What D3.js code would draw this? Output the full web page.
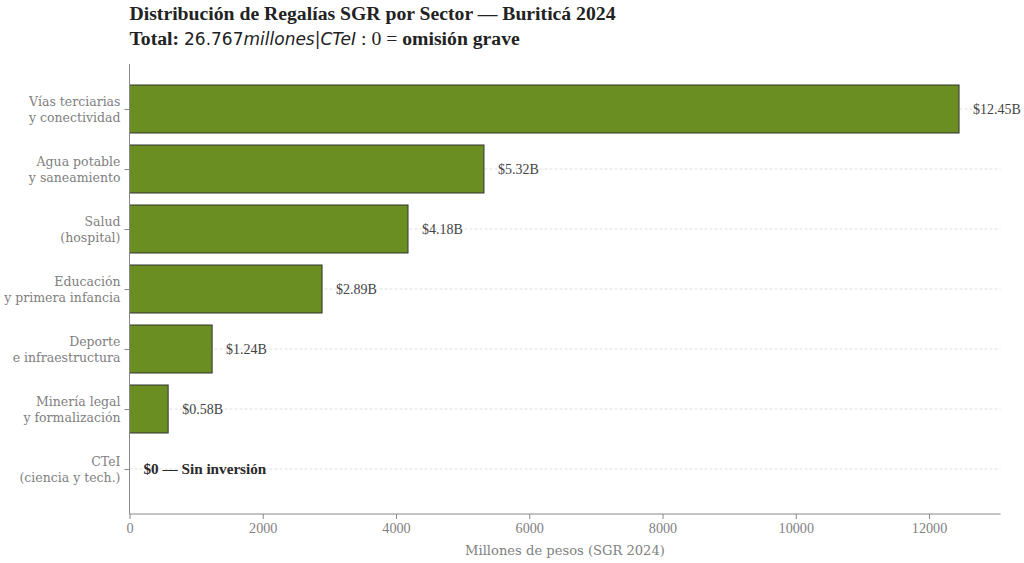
<!DOCTYPE html>
<html>
<head>
<meta charset="utf-8">
<script src="https://cdn.jsdelivr.net/npm/d3@7"></script>
<style>
  body { margin: 0; background: #fff; }
</style>
</head>
<body>
<div id="chart"></div>
<script>
// sectores (de arriba hacia abajo) y montos en millones de pesos
var sectors = [
	["Vías terciarias", "y conectividad"],
	["Agua potable", "y saneamiento"],
	["Salud", "(hospital)"],
	["Educación", "y primera infancia"],
	["Deporte", "e infraestructura"],
	["Minería legal", "y formalización"],
	["CTeI", "(ciencia y tech.)"]
];
var values = [12450, 5320, 4180, 2890, 1240, 580, 0];
var xTicks = [0, 2000, 4000, 6000, 8000, 10000, 12000];

var width = 1024,
	height = 563,
	margin = {left: 129.5, right: 23.5, top: 64, bottom: 49},
	barColor = "#6b8e23",
	axisColor = "#888",
	labelColor = "#808080",
	serif = "'Liberation Serif', serif",
	wideSerif = "'DejaVu Serif', serif",
	sans = "'DejaVu Sans', sans-serif";

var svg = d3.select("#chart")
	.append("svg")
	.attr("width", width)
	.attr("height", height)
	.style("font-family", serif);

var x = d3.scaleLinear()
	.domain([0, d3.max(values) * 1.05])
	.range([margin.left, width - margin.right]);

// posiciones por indice, con margen de 0.75 banda arriba y abajo
var y = d3.scaleLinear()
	.domain([-0.75, sectors.length - 0.25])
	.range([margin.top, height - margin.bottom]);

var band = y(1) - y(0),
	barH = band * 0.8;

// lineas guia punteadas
svg.append("g")
	.selectAll("line")
	.data(values)
	.enter()
	.append("line")
	.attr("x1", x(0))
	.attr("x2", x.range()[1])
	.attr("y1", function(d, i){ return y(i); })
	.attr("y2", function(d, i){ return y(i); })
	.attr("stroke", "#d6d6d6")
	.attr("stroke-width", 0.8)
	.attr("stroke-dasharray", "3,2");

// barras
svg.append("g")
	.selectAll("rect")
	.data(values)
	.enter()
	.append("rect")
	.attr("x", x(0))
	.attr("y", function(d, i){ return y(i) - barH / 2; })
	.attr("width", function(d){ return x(d) - x(0); })
	.attr("height", barH)
	.attr("fill", function(d){ return d > 0 ? barColor : "none"; })
	.attr("stroke", function(d){ return d > 0 ? "#333" : "none"; })
	.attr("stroke-width", 1);

// etiquetas de valor
svg.append("g")
	.selectAll("text")
	.data(values)
	.enter()
	.append("text")
	.attr("x", function(d){ return x(d) + 14; })
	.attr("y", function(d, i){ return y(i); })
	.attr("dy", "0.35em")
	.style("font-size", function(d){ return d > 0 ? "14px" : "15.2px"; })
	.attr("fill", function(d){ return d > 0 ? "#444" : "#2a2a2a"; })
	.attr("font-weight", function(d){ return d > 0 ? "normal" : "bold"; })
	.text(function(d){
		return d > 0 ? "$" + (d / 1000).toFixed(2) + "B" : "$0 — Sin inversión";
	});

// eje x
var xAxis = svg.append("g")
	.attr("transform", "translate(0," + (height - margin.bottom) + ")")
	.call(d3.axisBottom(x).tickValues(xTicks).tickSize(5).tickPadding(4).tickFormat(d3.format("d")));
xAxis.select(".domain").attr("stroke", axisColor).attr("d", "M" + x.range()[0] + ",0H" + x.range()[1]);
xAxis.selectAll(".tick line").attr("stroke", axisColor);
xAxis.selectAll(".tick text")
	.attr("fill", labelColor)
	.style("font-size", "14.2px")
	.style("font-family", serif);

// eje y
var yAxis = svg.append("g")
	.attr("transform", "translate(" + x(0) + ",0)")
	.call(d3.axisLeft(y).tickValues(d3.range(sectors.length)).tickSize(5).tickFormat(""));
yAxis.select(".domain").attr("stroke", axisColor).attr("d", "M0," + y.range()[0] + "V" + y.range()[1]);
yAxis.selectAll(".tick line").attr("stroke", axisColor);

svg.append("g")
	.selectAll("text")
	.data(sectors)
	.enter()
	.append("text")
	.attr("text-anchor", "end")
	.style("font-family", wideSerif)
	.style("font-size", "12.5px")
	.attr("fill", labelColor)
	.each(function(d, i){
		var t = d3.select(this);
		d.forEach(function(line, j){
			t.append("tspan")
				.attr("x", x(0) - 9)
				.attr("y", y(i) - 3 + j * 16)
				.text(line);
		});
	});

// titulo del eje x
svg.append("text")
	.attr("x", (x.range()[0] + x.range()[1]) / 2)
	.attr("y", 555)
	.attr("text-anchor", "middle")
	.style("font-family", wideSerif)
	.style("font-size", "13.1px")
	.attr("fill", labelColor)
	.text("Millones de pesos (SGR 2024)");

// titulo
svg.append("text")
	.attr("x", x(0))
	.attr("y", 20)
	.style("font-size", "19.7px")
	.attr("font-weight", "bold")
	.attr("fill", "#222")
	.text("Distribución de Regalías SGR por Sector — Buriticá 2024");

var sub = svg.append("text")
	.attr("x", x(0))
	.attr("y", 45)
	.style("font-size", "19.7px")
	.attr("fill", "#222");
sub.append("tspan").attr("font-weight", "bold").text("Total: ");
sub.append("tspan").style("font-family", sans).style("font-size", "17px").text("26.767");
sub.append("tspan").style("font-family", sans).style("font-size", "17px").style("font-style", "italic").text("millones");
sub.append("tspan").style("font-family", sans).style("font-size", "17px").text("|");
sub.append("tspan").style("font-family", sans).style("font-size", "17px").style("font-style", "italic").text("CTeI");
sub.append("tspan").text(" : 0 = ");
sub.append("tspan").attr("font-weight", "bold").text("omisión grave");
</script>
</body>
</html>
